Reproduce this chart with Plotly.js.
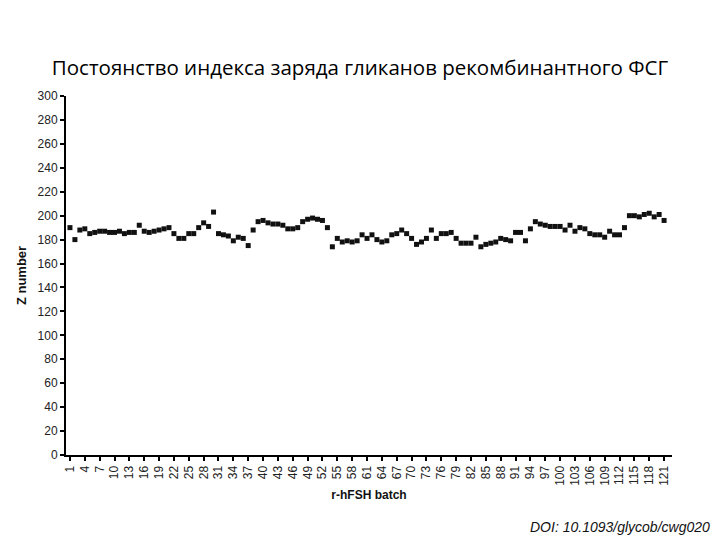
<!DOCTYPE html>
<html>
<head>
<meta charset="utf-8">
<script src="https://cdn.plot.ly/plotly-3.0.1.min.js"></script>
<style>
  html, body { margin: 0; padding: 0; background: #fff; }
  #chart { width: 720px; height: 540px; }
</style>
</head>
<body>
<div id="chart"></div>
<script>
// Z number per r-hFSH batch.
const batches = Array.from({ length: 121 }, (_, i) => i + 1);
const z_numbers = [
    190, 180, 188, 189, 185, 186, 187, 187, 186, 186,
    187, 185, 186, 186, 192, 187, 186, 187, 188, 189,
    190, 185, 181, 181, 185, 185, 190, 194, 191, 203,
    185, 184, 183, 179, 182, 181, 175, 188, 195, 196,
    194, 193, 193, 192, 189, 189, 190, 195, 197, 198,
    197, 196, 190, 174, 181, 178, 179, 178, 179, 184,
    181, 184, 180, 178, 179, 184, 185, 188, 185, 181,
    176, 178, 181, 188, 181, 185, 185, 186, 181, 177,
    177, 177, 182, 174, 176, 177, 178, 181, 180, 179,
    186, 186, 179, 189, 195, 193, 192, 191, 191, 191,
    188, 192, 187, 190, 189, 185, 184, 184, 182, 187,
    184, 184, 190, 200, 200, 199, 201, 202, 199, 201,
    196
];
// every third batch gets a label, like the original
const x_ticks = batches.filter(b => (b - 1) % 3 === 0);
const y_ticks = [0, 20, 40, 60, 80, 100, 120, 140, 160, 180, 200, 220, 240, 260, 280, 300];

const chart_title = 'Постоянство индекса заряда гликанов рекомбинантного ФСГ';
const doi_text = 'DOI: 10.1093/glycob/cwg020';

const axis_font = { family: 'Liberation Sans, Arial, sans-serif', size: 12, color: '#222' };

const trace = {
    x: batches,
    y: z_numbers,
    type: 'scatter',
    mode: 'markers',
    marker: { symbol: 'square', size: 5, color: '#111' },
    hoverinfo: 'x+y'
};

const layout = {
    width: 720,
    height: 540,
    margin: { l: 66, r: 48, t: 96, b: 85 },
    paper_bgcolor: '#fff',
    plot_bgcolor: '#fff',
    showlegend: false,
    title: {
        text: chart_title,
        font: { family: 'Open Sans, Noto Sans, sans-serif', size: 20.5, color: '#000' },
        x: 0.5,
        xanchor: 'center',
        y: 0.875,
        yanchor: 'middle'
    },
    xaxis: {
        range: [0.2, 122.6],
        tickmode: 'array',
        tickvals: x_ticks,
        ticktext: x_ticks.map(String),
        tickangle: -90,
        ticks: 'outside',
        ticklen: 4,
        tickwidth: 1.5,
        tickcolor: '#000',
        tickfont: axis_font,
        showline: true,
        linecolor: '#000',
        linewidth: 2,
        showgrid: false,
        zeroline: false,
        title: {
            text: '<b>r-hFSH batch</b>',
            font: { family: 'Liberation Sans, Arial, sans-serif', size: 12, color: '#111' },
            standoff: 6
        }
    },
    yaxis: {
        range: [0, 300],
        tickmode: 'array',
        tickvals: y_ticks,
        ticks: 'outside',
        ticklen: 4,
        tickwidth: 1.5,
        tickcolor: '#000',
        tickfont: axis_font,
        showline: true,
        linecolor: '#000',
        linewidth: 2,
        showgrid: false,
        zeroline: false,
        title: {
            text: '<b>Z number</b>',
            font: { family: 'Liberation Sans, Arial, sans-serif', size: 13, color: '#111' },
            standoff: 8
        }
    },
    annotations: [{
        text: '<i>' + doi_text + '</i>',
        xref: 'paper',
        yref: 'paper',
        x: 1.066,
        y: -0.2,
        xanchor: 'right',
        yanchor: 'middle',
        showarrow: false,
        font: { family: 'Liberation Sans, Arial, sans-serif', size: 14, color: '#111' }
    }]
};

const config = { responsive: false, displaylogo: false, displayModeBar: false };

Plotly.newPlot('chart', [trace], layout, config);
</script>
</body>
</html>
